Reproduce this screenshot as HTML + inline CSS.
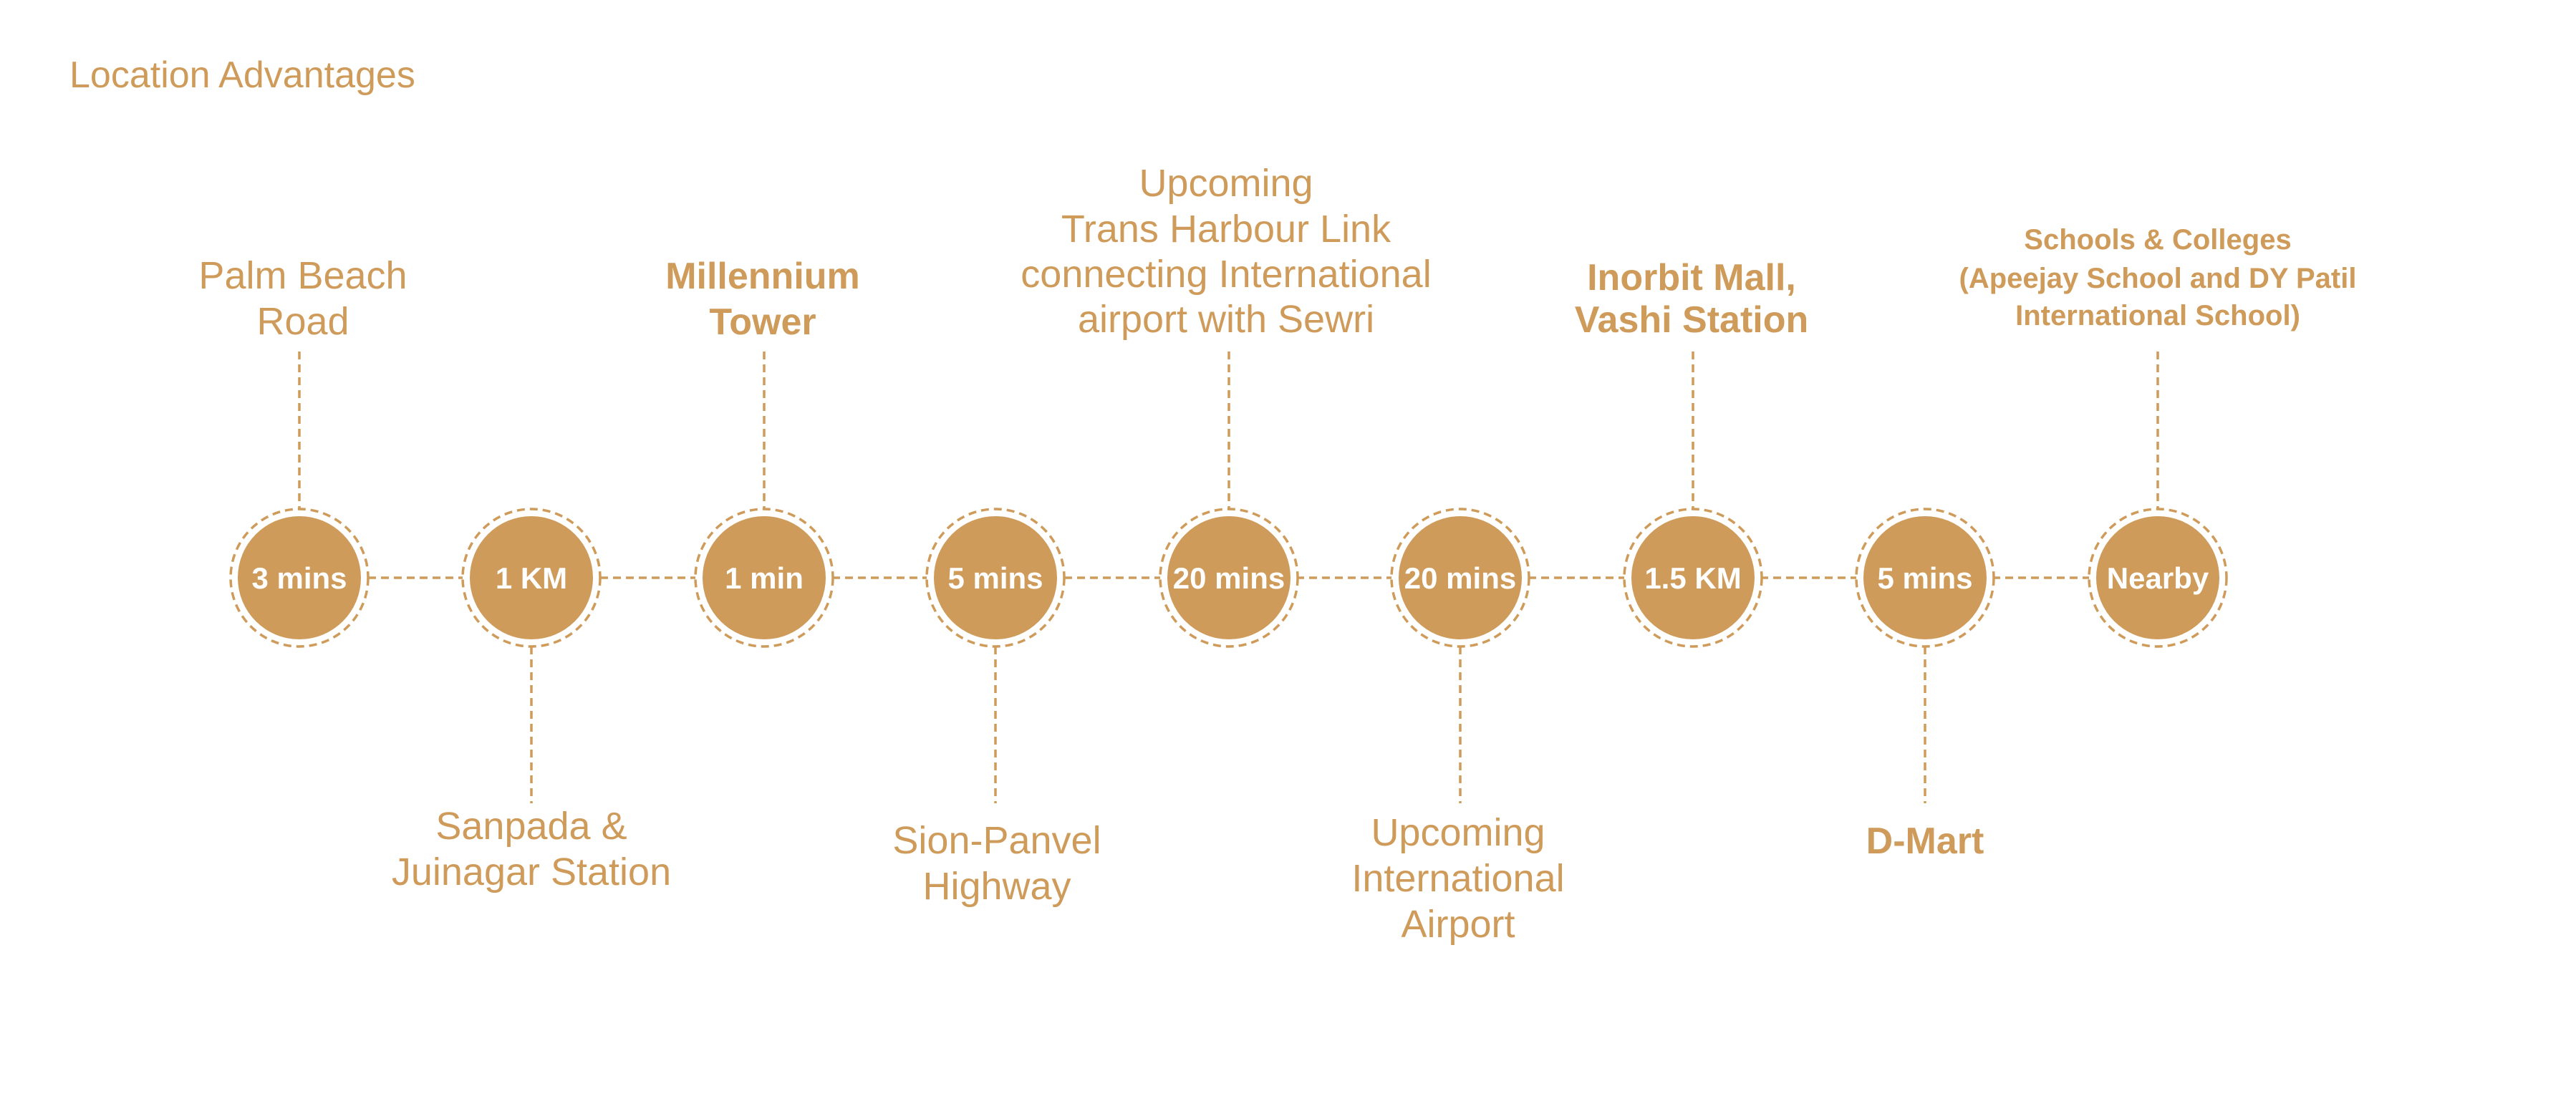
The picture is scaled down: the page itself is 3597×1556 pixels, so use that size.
<!DOCTYPE html>
<html><head><meta charset="utf-8"><style>
html,body{margin:0;padding:0;background:#fff;}
svg{display:block;}
text{font-family:"Liberation Sans",sans-serif;fill:#CF9B5A;}
.l{font-size:54px;}
.b{font-size:52px;font-weight:bold;}
.s{font-size:40px;font-weight:bold;}
.c{font-size:42px;font-weight:bold;fill:#fff;}
</style></head><body>
<svg width="3597" height="1556" viewBox="0 0 3597 1556" xmlns="http://www.w3.org/2000/svg">
<text x="97" y="122" style="font-size:52px;">Location Advantages</text>
<g stroke="#CF9B5A" stroke-width="3.5" stroke-dasharray="11 7" fill="none">
<line x1="514" y1="807" x2="2918" y2="807"/>
<line x1="418" y1="491" x2="418" y2="711"/>
<line x1="1067" y1="491" x2="1067" y2="711"/>
<line x1="1716" y1="491" x2="1716" y2="711"/>
<line x1="2364" y1="491" x2="2364" y2="711"/>
<line x1="3013" y1="491" x2="3013" y2="711"/>
<line x1="742" y1="903" x2="742" y2="1122"/>
<line x1="1390" y1="903" x2="1390" y2="1122"/>
<line x1="2039" y1="903" x2="2039" y2="1122"/>
<line x1="2688" y1="903" x2="2688" y2="1122"/>
</g>
<g>
<g transform="translate(418,807)"><circle r="96" fill="#fff" stroke="#CF9B5A" stroke-width="3.5" stroke-dasharray="11 7"/><circle r="86" fill="#CF9B5A"/><text class="c" y="15" text-anchor="middle">3 mins</text></g>
<g transform="translate(742,807)"><circle r="96" fill="#fff" stroke="#CF9B5A" stroke-width="3.5" stroke-dasharray="11 7"/><circle r="86" fill="#CF9B5A"/><text class="c" y="15" text-anchor="middle">1 KM</text></g>
<g transform="translate(1067,807)"><circle r="96" fill="#fff" stroke="#CF9B5A" stroke-width="3.5" stroke-dasharray="11 7"/><circle r="86" fill="#CF9B5A"/><text class="c" y="15" text-anchor="middle">1 min</text></g>
<g transform="translate(1390,807)"><circle r="96" fill="#fff" stroke="#CF9B5A" stroke-width="3.5" stroke-dasharray="11 7"/><circle r="86" fill="#CF9B5A"/><text class="c" y="15" text-anchor="middle">5 mins</text></g>
<g transform="translate(1716,807)"><circle r="96" fill="#fff" stroke="#CF9B5A" stroke-width="3.5" stroke-dasharray="11 7"/><circle r="86" fill="#CF9B5A"/><text class="c" y="15" text-anchor="middle">20 mins</text></g>
<g transform="translate(2039,807)"><circle r="96" fill="#fff" stroke="#CF9B5A" stroke-width="3.5" stroke-dasharray="11 7"/><circle r="86" fill="#CF9B5A"/><text class="c" y="15" text-anchor="middle">20 mins</text></g>
<g transform="translate(2364,807)"><circle r="96" fill="#fff" stroke="#CF9B5A" stroke-width="3.5" stroke-dasharray="11 7"/><circle r="86" fill="#CF9B5A"/><text class="c" y="15" text-anchor="middle">1.5 KM</text></g>
<g transform="translate(2688,807)"><circle r="96" fill="#fff" stroke="#CF9B5A" stroke-width="3.5" stroke-dasharray="11 7"/><circle r="86" fill="#CF9B5A"/><text class="c" y="15" text-anchor="middle">5 mins</text></g>
<g transform="translate(3013,807)"><circle r="96" fill="#fff" stroke="#CF9B5A" stroke-width="3.5" stroke-dasharray="11 7"/><circle r="86" fill="#CF9B5A"/><text class="c" y="15" text-anchor="middle">Nearby</text></g>
</g>
<g text-anchor="middle">
<text class="l" x="423" y="403">Palm Beach</text>
<text class="l" x="423" y="467">Road</text>
<text class="b" x="1065" y="403">Millennium</text>
<text class="b" x="1065" y="467">Tower</text>
<text class="l" x="1712" y="274">Upcoming</text>
<text class="l" x="1712" y="338">Trans Harbour Link</text>
<text class="l" x="1712" y="401">connecting International</text>
<text class="l" x="1712" y="464">airport with Sewri</text>
<text class="b" x="2362" y="405">Inorbit Mall,</text>
<text class="b" x="2362" y="464">Vashi Station</text>
<text class="s" x="3013" y="348">Schools &amp; Colleges</text>
<text class="s" x="3013" y="402">(Apeejay School and DY Patil</text>
<text class="s" x="3013" y="454">International School)</text>
<text class="l" x="742" y="1172">Sanpada &amp;</text>
<text class="l" x="742" y="1236">Juinagar Station</text>
<text class="l" x="1392" y="1192">Sion-Panvel</text>
<text class="l" x="1392" y="1256">Highway</text>
<text class="l" x="2036" y="1181">Upcoming</text>
<text class="l" x="2036" y="1245">International</text>
<text class="l" x="2036" y="1309">Airport</text>
<text class="b" x="2688" y="1192">D-Mart</text>
</g>
</svg>
</body></html>
